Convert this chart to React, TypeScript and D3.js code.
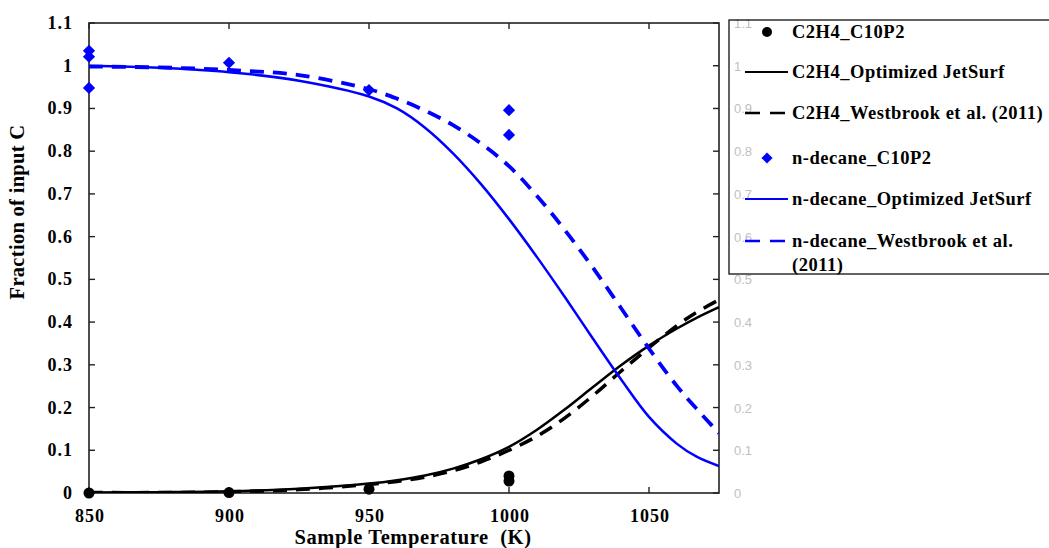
import React from "react";
import * as d3 from "d3";

// ---- data ----
const curveTemps = [850, 875, 900, 925, 950, 960, 970, 980, 990, 1000, 1010, 1020, 1030, 1040, 1050, 1060, 1067, 1075];
const c2h4Optimized = [0.001, 0.002, 0.004, 0.01, 0.022, 0.03, 0.041, 0.057, 0.079, 0.108, 0.148, 0.196, 0.248, 0.299, 0.345, 0.385, 0.41, 0.435];
const c2h4Westbrook = [0.001, 0.001, 0.003, 0.008, 0.02, 0.027, 0.037, 0.052, 0.073, 0.1, 0.133, 0.176, 0.228, 0.285, 0.34, 0.392, 0.423, 0.452];
const decaneOptimized = [1.0, 0.995, 0.985, 0.965, 0.928, 0.9, 0.855, 0.795, 0.723, 0.641, 0.552, 0.458, 0.361, 0.266, 0.178, 0.115, 0.085, 0.063];
const decaneWestbrook = [0.998, 0.996, 0.99, 0.978, 0.945, 0.923, 0.895, 0.861, 0.818, 0.765, 0.695, 0.615, 0.527, 0.433, 0.338, 0.25, 0.197, 0.14];

const c2h4ExpTemps = [850, 900, 950, 1000, 1000];
const c2h4ExpValues = [0.0, 0.001, 0.009, 0.028, 0.04];
const decaneExpTemps = [850, 850, 850, 900, 950, 1000, 1000];
const decaneExpValues = [1.035, 1.021, 0.948, 1.007, 0.943, 0.896, 0.838];

const xTicks = [850, 900, 950, 1000, 1050];
const yTicks = [0, 0.1, 0.2, 0.3, 0.4, 0.5, 0.6, 0.7, 0.8, 0.9, 1, 1.1];
const yTickLabels = ["0", "0.1", "0.2", "0.3", "0.4", "0.5", "0.6", "0.7", "0.8", "0.9", "1", "1.1"];

const legendLabels = [
  "C2H4_C10P2",
  "C2H4_Optimized JetSurf",
  "C2H4_Westbrook et al. (2011)",
  "n-decane_C10P2",
  "n-decane_Optimized JetSurf",
  "n-decane_Westbrook et al.",
];

const W = 1049;
const H = 548;
const L = 89, R = 719, T = 23, B = 493;
const serif = "'Liberation Serif', 'Times New Roman', serif";
const sans = "'Liberation Sans', Arial, sans-serif";
const BLUE = "#0000ff";
const DASH = "14,9";

export default function App() {
  const x = d3.scaleLinear().domain([850, 1075]).range([L, R]);
  const y = d3.scaleLinear().domain([0, 1.1]).range([B, T]);
  const line = (vals: number[]) =>
    d3
      .line<number>()
      .x((_, i) => x(curveTemps[i]))
      .y((v) => y(v))
      .curve(d3.curveCatmullRom.alpha(0.5))(vals) || "";

  const diamond = d3.symbol().type(d3.symbolDiamond2).size(95)() || "";
  const legendDiamond = d3.symbol().type(d3.symbolDiamond2).size(80)() || "";

  const legendRows = [40, 80, 121, 166, 207, 249];
  const legendMarkX = 767;
  const legendTextX = 792;

  return (
    <svg width={W} height={H} style={{ position: "absolute", left: 0, top: 0, background: "#fff" }}>
      <defs>
        <clipPath id="plotClip">
          <rect x={L} y={T} width={R - L} height={B - T} />
        </clipPath>
      </defs>
      <rect x={0} y={0} width={W} height={H} fill="#fff" />

      {/* right axis gray labels */}
      {yTicks.map((t, i) => (
        <text key={"r" + i} x={734} y={y(t) + 5} fontFamily={sans} fontSize={13} fill="#c0c0c0">
          {yTickLabels[i]}
        </text>
      ))}

      {/* frame */}
      <rect x={L} y={T} width={R - L} height={B - T} fill="none" stroke="#222" strokeWidth={1.6} />

      {/* ticks */}
      {yTicks.map((t, i) => (
        <g key={"yt" + i}>
          <line x1={L} x2={L + 6} y1={y(t)} y2={y(t)} stroke="#222" strokeWidth={1.4} />
          <line x1={R - 6} x2={R} y1={y(t)} y2={y(t)} stroke="#222" strokeWidth={1.4} />
          <text x={73} y={y(t) + 6} textAnchor="end" fontFamily={serif} fontWeight="bold" fontSize={18} letterSpacing={1}>
            {yTickLabels[i]}
          </text>
        </g>
      ))}
      {xTicks.map((t, i) => (
        <g key={"xt" + i}>
          <line x1={x(t)} x2={x(t)} y1={B} y2={B - 6} stroke="#222" strokeWidth={1.4} />
          <line x1={x(t)} x2={x(t)} y1={T} y2={T + 6} stroke="#222" strokeWidth={1.4} />
          <text x={x(t) + 1} y={522} textAnchor="middle" fontFamily={serif} fontWeight="bold" fontSize={18} letterSpacing={1}>
            {t}
          </text>
        </g>
      ))}

      {/* axis titles */}
      <text x={413} y={544} textAnchor="middle" fontFamily={serif} fontWeight="bold" fontSize={20.5} letterSpacing={0.6} style={{ whiteSpace: "pre" }}>
        {"Sample Temperature  (K)"}
      </text>
      <text
        transform="translate(24,212) rotate(-90)"
        textAnchor="middle"
        fontFamily={serif}
        fontWeight="bold"
        fontSize={20.5}
        letterSpacing={0.3}
      >
        Fraction of input C
      </text>

      {/* curves */}
      <g clipPath="url(#plotClip)" fill="none">
        <path d={line(c2h4Optimized)} stroke="#000" strokeWidth={2.5} />
        <path d={line(c2h4Westbrook)} stroke="#000" strokeWidth={3.5} strokeDasharray={DASH} />
        <path d={line(decaneOptimized)} stroke={BLUE} strokeWidth={2.5} />
        <path d={line(decaneWestbrook)} stroke={BLUE} strokeWidth={3.8} strokeDasharray={DASH} />
      </g>

      {/* experimental points */}
      {c2h4ExpTemps.map((t, i) => (
        <circle key={"c" + i} cx={x(t)} cy={y(c2h4ExpValues[i])} r={5.5} fill="#000" />
      ))}
      {decaneExpTemps.map((t, i) => (
        <path key={"d" + i} d={diamond} transform={`translate(${x(t)},${y(decaneExpValues[i])})`} fill={BLUE} />
      ))}

      {/* legend */}
      <rect x={729} y={20} width={340} height={254} fill="none" stroke="#222" strokeWidth={1.4} />
      <circle cx={legendMarkX} cy={legendRows[0] - 8} r={5} fill="#000" />
      <line x1={745} x2={788} y1={legendRows[1] - 8} y2={legendRows[1] - 8} stroke="#000" strokeWidth={2} />
      <line x1={745} x2={788} y1={legendRows[2] - 8} y2={legendRows[2] - 8} stroke="#000" strokeWidth={2.5} strokeDasharray="15,10" />
      <path d={legendDiamond} transform={`translate(${legendMarkX},${legendRows[3] - 8})`} fill={BLUE} />
      <line x1={745} x2={788} y1={legendRows[4] - 8} y2={legendRows[4] - 8} stroke={BLUE} strokeWidth={2} />
      <line x1={745} x2={788} y1={legendRows[5] - 8} y2={legendRows[5] - 8} stroke={BLUE} strokeWidth={2.5} strokeDasharray="15,10" />
      {legendLabels.map((lab, i) => (
        <text key={"l" + i} x={legendTextX} y={legendRows[i] - 2} fontFamily={serif} fontWeight="bold" fontSize={18.5} letterSpacing={0.5}>
          {lab}
        </text>
      ))}
      <text x={legendTextX} y={legendRows[5] + 22} fontFamily={serif} fontWeight="bold" fontSize={18.5} letterSpacing={0.5}>
        (2011)
      </text>
    </svg>
  );
}
